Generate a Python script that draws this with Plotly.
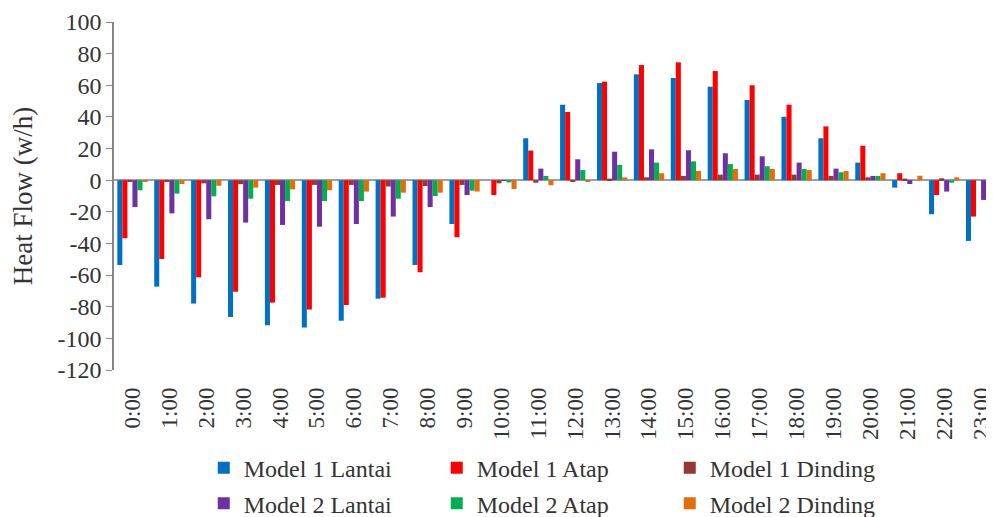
import plotly.graph_objects as go

# Data
hours = ['%d:00' % h for h in range(24)]

model1_lantai = [-53.6, -67.3, -78.0, -86.5, -91.7, -93.2, -88.8, -74.9, -53.6, -27.7, 0.0, 26.5,
                 47.7, 61.4, 66.9, 64.6, 59.1, 50.7, 40.1, 26.5, 11.1, -4.7, -21.5, -38.4]
model1_atap = [-36.7, -49.8, -61.4, -70.5, -77.4, -81.8, -78.9, -74.3, -58.2, -36.1, -9.4, 18.7,
               43.1, 62.3, 72.8, 74.5, 69.0, 60.0, 47.7, 34.0, 21.8, 4.4, -9.4, -23.0]
model1_dinding = [-1.0, -1.0, -2.0, -2.5, -3.0, -3.0, -3.0, -4.0, -3.7, -3.0, -2.0, -1.6,
                  -1.0, 1.0, 1.8, 2.7, 3.5, 3.5, 3.5, 2.7, 1.8, 1.0, 1.2, 0.0]
model2_lantai = [-17.0, -21.0, -24.7, -26.8, -28.3, -29.4, -27.7, -23.0, -17.0, -9.4, -0.5, 7.3,
                 13.2, 18.0, 19.5, 18.9, 17.0, 15.1, 11.1, 7.3, 2.7, -2.4, -7.2, -12.5]
model2_atap = [-6.4, -8.5, -10.2, -11.7, -13.2, -13.2, -13.2, -11.7, -10.0, -6.6, -1.4, 2.7,
               6.4, 9.6, 11.1, 11.9, 10.2, 8.8, 7.1, 5.0, 2.7, 0.0, -1.6, -4.0]
model2_dinding = [-1.0, -2.4, -3.5, -4.7, -5.8, -6.4, -7.2, -7.9, -7.9, -7.2, -5.6, -3.2,
                  -1.0, 1.8, 4.4, 5.8, 7.1, 7.1, 6.4, 5.8, 4.4, 2.8, 1.8, -1.0]

y_ticks = [100, 80, 60, 40, 20, 0, -20, -40, -60, -80, -100, -120]

series = [
    ('Model 1 Lantai', model1_lantai, '#0070C0', 'legend'),
    ('Model 1 Atap', model1_atap, '#FF0000', 'legend'),
    ('Model 1 Dinding', model1_dinding, '#953735', 'legend'),
    ('Model 2 Lantai', model2_lantai, '#7030A0', 'legend2'),
    ('Model 2 Atap', model2_atap, '#00B050', 'legend2'),
    ('Model 2 Dinding', model2_dinding, '#E46C0A', 'legend2'),
]

FONT = 'Liberation Serif'
TEXT = '#333333'

fig = go.Figure()
for name, values, color, leg in series:
    fig.add_trace(go.Bar(x=hours, y=values, name=name, marker_color=color,
                         marker_line_width=0, legend=leg))

legend_common = dict(orientation='h', xanchor='left', yanchor='middle',
                     entrywidth=188, entrywidthmode='pixels',
                     font=dict(family=FONT, size=24, color=TEXT),
                     bgcolor='rgba(0,0,0,0)', itemclick=False)

# page body adds an 8px offset, so the figure is sized to fit the window
fig.update_layout(
    width=986, height=509,
    margin=dict(l=106, r=0, t=14, b=147, autoexpand=False),
    paper_bgcolor='white', plot_bgcolor='white',
    font=dict(family=FONT, size=22, color=TEXT),
    barmode='group', bargap=0.18, bargroupgap=0,
    showlegend=True,
    legend=dict(x=0.102, y=-0.282, **legend_common),
    legend2=dict(x=0.102, y=-0.384, **legend_common),
    xaxis=dict(range=[-0.5, 23.35], tickangle=-90, showline=False, showgrid=False,
               zeroline=False, ticks='', ticklabelstandoff=12,
               tickfont=dict(family=FONT, size=23, color=TEXT), automargin=False),
    yaxis=dict(range=[-120, 100], tickvals=y_ticks, ticktext=[str(v) for v in y_ticks],
               showgrid=False, showline=True, linecolor='#868686', linewidth=1.5,
               ticks='outside', ticklen=6, tickcolor='#868686', automargin=False,
               tickfont=dict(family=FONT, size=24, color=TEXT),
               zeroline=True, zerolinecolor='#A0A0A0', zerolinewidth=1.5,
               title=dict(text='Heat Flow (w/h)', standoff=20,
                          font=dict(family=FONT, size=27, color=TEXT))),
)

fig.write_html('out.html')
